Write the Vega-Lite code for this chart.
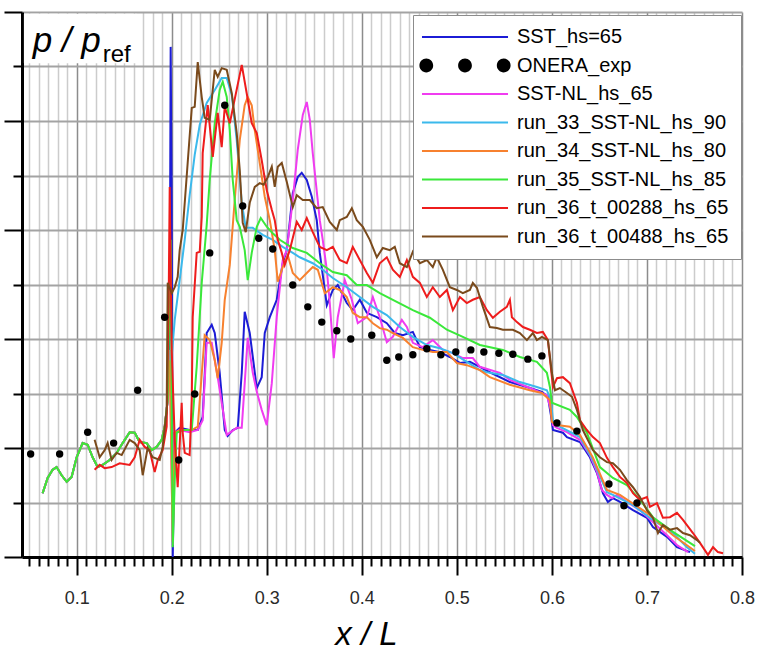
{
"$schema": "https://vega.github.io/schema/vega-lite/v6.json",
"width": 720, "height": 545, "autosize": "none",
"padding": {"left": 22, "top": 12, "right": 18, "bottom": 93},
"background": "white",
"config": {"view": {"stroke": null}, "font": "Liberation Sans"},
"resolve": {"axis": {"x": "independent", "y": "independent"}},
"datasets": {
"sst": [{"x":0.0642,"y":1.17},{"x":0.0695,"y":1.45},{"x":0.0747,"y":1.60},{"x":0.0789,"y":1.65},{"x":0.0842,"y":1.50},{"x":0.0895,"y":1.38},{"x":0.0947,"y":1.47},{"x":0.1,"y":1.83},{"x":0.1063,"y":2.09},{"x":0.1116,"y":2.06},{"x":0.1168,"y":1.83},{"x":0.1221,"y":1.65},{"x":0.1274,"y":1.69},{"x":0.1347,"y":1.78},{"x":0.1421,"y":1.91},{"x":0.1484,"y":2.09},{"x":0.1558,"y":2.29},{"x":0.1611,"y":2.28},{"x":0.1663,"y":2.11},{"x":0.1737,"y":2.09},{"x":0.1789,"y":1.96},{"x":0.1842,"y":2.02},{"x":0.1895,"y":2.15},{"x":0.1926,"y":2.39},{"x":0.1958,"y":2.88},
{"x":0.1979,"y":4.17},{"x":0.1989,"y":9.36},{"x":0.2,"y":6.55},{"x":0.2011,"y":0},{"x":0.2021,"y":1.05},{"x":0.2032,"y":2.28},{"x":0.2084,"y":2.37},{"x":0.2189,"y":2.33},{"x":0.2274,"y":2.33},{"x":0.2326,"y":2.57},{"x":0.2368,"y":4.11},{"x":0.2421,"y":4.26},{"x":0.2453,"y":4.11},{"x":0.2505,"y":3.38},{"x":0.2558,"y":2.33},{"x":0.2589,"y":2.22},{"x":0.2642,"y":2.33},{"x":0.2695,"y":2.37},{"x":0.2737,"y":3.38},{"x":0.2768,"y":4.50},{"x":0.2821,"y":4.11},{"x":0.2895,"y":3.10},{"x":0.2947,"y":3.30},{"x":0.2979,"y":4.11},{"x":0.3032,"y":4.40},{"x":0.3105,"y":4.72},{"x":0.3168,"y":5.39},{"x":0.3211,"y":5.63},{"x":0.3274,"y":6.68},{"x":0.3326,"y":6.97},{"x":0.3368,"y":7.05},{"x":0.3421,"y":6.92},{"x":0.3474,"y":6.61},{"x":0.3526,"y":6.18},{"x":0.3558,"y":5.58},{"x":0.3632,"y":4.62},{"x":0.3695,"y":4.90},{"x":0.3747,"y":4.99},{"x":0.3842,"y":4.66},{"x":0.3905,"y":4.53},{"x":0.3979,"y":4.72},{"x":0.4053,"y":4.48},{"x":0.4158,"y":4.40},{"x":0.4263,"y":4.29},{"x":0.4347,"y":4.11},{"x":0.4432,"y":4.07},{"x":0.4537,"y":4.13},{"x":0.4611,"y":3.85},{"x":0.4716,"y":3.80},{"x":0.4821,"y":3.76},{"x":0.4926,"y":3.67},{"x":0.5032,"y":3.56},{"x":0.5137,"y":3.58},{"x":0.5242,"y":3.49},{"x":0.5347,"y":3.39},{"x":0.5558,"y":3.21},{"x":0.5737,"y":3.12},{"x":0.5895,"y":3.03},{"x":0.5958,"y":2.94},{"x":0.5989,"y":2.61},{"x":0.6011,"y":2.33},{"x":0.6116,"y":2.28},{"x":0.6158,"y":2.20},{"x":0.6295,"y":2.11},{"x":0.64,"y":1.83},{"x":0.6474,"y":1.54},{"x":0.6537,"y":1.17},{"x":0.6589,"y":1.01},{"x":0.6642,"y":1.08},{"x":0.6716,"y":1.01},{"x":0.6853,"y":0.86},{"x":0.7,"y":0.72},{"x":0.7063,"y":0.55},{"x":0.7211,"y":0.37},{"x":0.7316,"y":0.18},{"x":0.7453,"y":0.09}],
"nl65": [{"x":0.0642,"y":1.17},{"x":0.0695,"y":1.45},{"x":0.0747,"y":1.60},{"x":0.0789,"y":1.65},{"x":0.0842,"y":1.50},{"x":0.0895,"y":1.38},{"x":0.0947,"y":1.47},{"x":0.1,"y":1.83},{"x":0.1063,"y":2.09},{"x":0.1116,"y":2.06},{"x":0.1168,"y":1.83},{"x":0.1221,"y":1.65},{"x":0.1274,"y":1.69},{"x":0.1347,"y":1.78},{"x":0.1421,"y":1.91},{"x":0.1484,"y":2.09},{"x":0.1558,"y":2.29},{"x":0.1611,"y":2.28},{"x":0.1663,"y":2.11},{"x":0.1737,"y":2.09},{"x":0.1789,"y":1.96},{"x":0.1842,"y":2.02},{"x":0.1895,"y":2.15},{"x":0.1926,"y":2.39},{"x":0.1958,"y":2.88},
{"x":0.1979,"y":3.80},{"x":0.2011,"y":0.22},{"x":0.2032,"y":2.28},{"x":0.2084,"y":2.33},{"x":0.2189,"y":2.29},{"x":0.2274,"y":2.33},{"x":0.2326,"y":2.51},{"x":0.2368,"y":3.93},{"x":0.2421,"y":3.93},{"x":0.2484,"y":3.30},{"x":0.2579,"y":2.24},{"x":0.2684,"y":2.37},{"x":0.2737,"y":2.37},{"x":0.28,"y":4.02},{"x":0.2853,"y":3.38},{"x":0.2895,"y":3.03},{"x":0.2947,"y":2.70},{"x":0.3,"y":2.42},{"x":0.3053,"y":3.19},{"x":0.3105,"y":4.40},{"x":0.3168,"y":5.45},{"x":0.3211,"y":5.63},{"x":0.3274,"y":6.55},{"x":0.3326,"y":7.47},{"x":0.3379,"y":8.11},{"x":0.3421,"y":8.35},{"x":0.3453,"y":8.02},{"x":0.3484,"y":7.41},{"x":0.3558,"y":6.18},{"x":0.3589,"y":5.82},{"x":0.3632,"y":5.27},{"x":0.3663,"y":4.66},{"x":0.3705,"y":3.65},{"x":0.3747,"y":4.40},{"x":0.3821,"y":5.08},{"x":0.3895,"y":4.72},{"x":0.3958,"y":4.29},{"x":0.4053,"y":4.40},{"x":0.4116,"y":4.77},{"x":0.4189,"y":4.40},{"x":0.4263,"y":3.94},{"x":0.4326,"y":4.04},{"x":0.4421,"y":4.35},{"x":0.4474,"y":4.22},{"x":0.4537,"y":3.93},{"x":0.4642,"y":3.85},{"x":0.4747,"y":3.98},{"x":0.4853,"y":3.80},{"x":0.4958,"y":3.74},{"x":0.5063,"y":3.65},{"x":0.5168,"y":3.65},{"x":0.5242,"y":3.49},{"x":0.5453,"y":3.38},{"x":0.5558,"y":3.25},{"x":0.5768,"y":3.10},{"x":0.5947,"y":2.97},{"x":0.5989,"y":2.70},{"x":0.6011,"y":2.42},{"x":0.6053,"y":2.37},{"x":0.6158,"y":2.29},{"x":0.6295,"y":2.15},{"x":0.64,"y":1.87},{"x":0.6474,"y":1.56},{"x":0.6526,"y":1.23},{"x":0.6579,"y":1.14},{"x":0.6632,"y":1.08},{"x":0.6684,"y":1.14},{"x":0.6789,"y":1.01},{"x":0.6926,"y":0.86},{"x":0.7063,"y":0.64},{"x":0.7211,"y":0.40},{"x":0.7316,"y":0.22},{"x":0.7432,"y":0.09}],
"r33": [{"x":0.0642,"y":1.17},{"x":0.0695,"y":1.45},{"x":0.0747,"y":1.60},{"x":0.0789,"y":1.65},{"x":0.0842,"y":1.50},{"x":0.0895,"y":1.38},{"x":0.0947,"y":1.47},{"x":0.1,"y":1.83},{"x":0.1063,"y":2.09},{"x":0.1116,"y":2.06},{"x":0.1168,"y":1.83},{"x":0.1221,"y":1.65},{"x":0.1274,"y":1.69},{"x":0.1347,"y":1.78},{"x":0.1421,"y":1.91},{"x":0.1484,"y":2.09},{"x":0.1558,"y":2.29},{"x":0.1611,"y":2.28},{"x":0.1663,"y":2.11},{"x":0.1737,"y":2.09},{"x":0.1789,"y":1.96},{"x":0.1842,"y":2.02},{"x":0.1895,"y":2.15},
{"x":0.1926,"y":2.33},{"x":0.1947,"y":2.70},{"x":0.1979,"y":3.25},{"x":0.2032,"y":4.35},{"x":0.2084,"y":5.08},{"x":0.2137,"y":5.82},{"x":0.2189,"y":6.64},{"x":0.2242,"y":7.38},{"x":0.2295,"y":7.93},{"x":0.2368,"y":8.33},{"x":0.2453,"y":8.57},{"x":0.2526,"y":8.79},{"x":0.2579,"y":8.79},{"x":0.2632,"y":8.48},{"x":0.2684,"y":7.65},{"x":0.2737,"y":6.50},{"x":0.2779,"y":6.04},{"x":0.2853,"y":6.04},{"x":0.2958,"y":5.91},{"x":0.3063,"y":5.82},{"x":0.3168,"y":5.69},{"x":0.3274,"y":5.58},{"x":0.3347,"y":5.50},{"x":0.3484,"y":5.39},{"x":0.3589,"y":5.27},{"x":0.3695,"y":5.12},{"x":0.3842,"y":4.95},{"x":0.3979,"y":4.77},{"x":0.4116,"y":4.59},{"x":0.4263,"y":4.44},{"x":0.44,"y":4.22},{"x":0.4537,"y":4.04},{"x":0.4684,"y":3.89},{"x":0.4821,"y":3.83},{"x":0.4958,"y":3.74},{"x":0.5105,"y":3.58},{"x":0.5242,"y":3.43},{"x":0.5316,"y":3.39},{"x":0.5484,"y":3.34},{"x":0.5663,"y":3.21},{"x":0.5842,"y":3.12},{"x":0.5947,"y":3.06},{"x":0.5989,"y":2.88},{"x":0.6011,"y":2.51},{"x":0.6053,"y":2.42},{"x":0.6295,"y":2.20},{"x":0.6432,"y":1.78},{"x":0.6579,"y":1.19},{"x":0.6642,"y":1.14},{"x":0.6853,"y":0.95},{"x":0.7063,"y":0.68},{"x":0.7274,"y":0.44},{"x":0.7421,"y":0.18},{"x":0.7505,"y":0.06}],
"r34": [{"x":0.0642,"y":1.17},{"x":0.0695,"y":1.45},{"x":0.0747,"y":1.60},{"x":0.0789,"y":1.65},{"x":0.0842,"y":1.50},{"x":0.0895,"y":1.38},{"x":0.0947,"y":1.47},{"x":0.1,"y":1.83},{"x":0.1063,"y":2.09},{"x":0.1116,"y":2.06},{"x":0.1168,"y":1.83},{"x":0.1221,"y":1.65},{"x":0.1274,"y":1.69},{"x":0.1347,"y":1.78},{"x":0.1421,"y":1.91},{"x":0.1484,"y":2.09},{"x":0.1558,"y":2.29},{"x":0.1611,"y":2.28},{"x":0.1663,"y":2.11},{"x":0.1737,"y":2.09},{"x":0.1789,"y":1.96},{"x":0.1842,"y":2.02},{"x":0.1895,"y":2.15},{"x":0.1926,"y":2.39},{"x":0.1958,"y":2.88},
{"x":0.1979,"y":3.61},{"x":0.2011,"y":0.28},{"x":0.2032,"y":2.28},{"x":0.2084,"y":2.33},{"x":0.2211,"y":2.33},{"x":0.2274,"y":2.39},{"x":0.2347,"y":4.07},{"x":0.24,"y":3.98},{"x":0.2453,"y":3.61},{"x":0.2484,"y":3.28},{"x":0.2526,"y":3.93},{"x":0.2558,"y":4.72},{"x":0.2611,"y":5.36},{"x":0.2663,"y":6.55},{"x":0.2716,"y":7.65},{"x":0.2768,"y":8.29},{"x":0.28,"y":8.44},{"x":0.2842,"y":8.29},{"x":0.2874,"y":7.83},{"x":0.2926,"y":7.23},{"x":0.2979,"y":6.61},{"x":0.3032,"y":6.18},{"x":0.3084,"y":5.63},{"x":0.3116,"y":5.05},{"x":0.3168,"y":5.32},{"x":0.3221,"y":5.54},{"x":0.3274,"y":5.21},{"x":0.3347,"y":5.08},{"x":0.3421,"y":5.21},{"x":0.3484,"y":5.32},{"x":0.3537,"y":5.27},{"x":0.3611,"y":4.84},{"x":0.3695,"y":4.95},{"x":0.3768,"y":4.90},{"x":0.3842,"y":4.77},{"x":0.3905,"y":4.48},{"x":0.3979,"y":4.40},{"x":0.4053,"y":4.40},{"x":0.4116,"y":4.29},{"x":0.4189,"y":4.20},{"x":0.4263,"y":4.17},{"x":0.4326,"y":4.11},{"x":0.4432,"y":4.02},{"x":0.4537,"y":3.85},{"x":0.4642,"y":3.80},{"x":0.4747,"y":3.76},{"x":0.4895,"y":3.76},{"x":0.5,"y":3.56},{"x":0.5105,"y":3.52},{"x":0.5242,"y":3.43},{"x":0.5347,"y":3.30},{"x":0.5558,"y":3.16},{"x":0.5768,"y":3.06},{"x":0.5895,"y":3.01},{"x":0.5979,"y":2.88},{"x":0.6,"y":2.48},{"x":0.6053,"y":2.42},{"x":0.6189,"y":2.39},{"x":0.6295,"y":2.24},{"x":0.6432,"y":1.82},{"x":0.6579,"y":1.23},{"x":0.6716,"y":1.14},{"x":0.7,"y":0.81},{"x":0.7274,"y":0.40},{"x":0.7505,"y":0.11}],
"r35": [{"x":0.0642,"y":1.17},{"x":0.0695,"y":1.45},{"x":0.0747,"y":1.60},{"x":0.0789,"y":1.65},{"x":0.0842,"y":1.50},{"x":0.0895,"y":1.38},{"x":0.0947,"y":1.47},{"x":0.1,"y":1.83},{"x":0.1063,"y":2.09},{"x":0.1116,"y":2.06},{"x":0.1168,"y":1.83},{"x":0.1221,"y":1.65},{"x":0.1274,"y":1.69},{"x":0.1347,"y":1.78},{"x":0.1421,"y":1.91},{"x":0.1484,"y":2.09},{"x":0.1558,"y":2.29},{"x":0.1611,"y":2.28},{"x":0.1663,"y":2.11},{"x":0.1737,"y":2.09},{"x":0.1789,"y":1.96},{"x":0.1842,"y":2.02},{"x":0.1895,"y":2.15},{"x":0.1926,"y":2.39},{"x":0.1958,"y":2.88},
{"x":0.1989,"y":5.82},{"x":0.2011,"y":0.18},{"x":0.2032,"y":1.41},{"x":0.2053,"y":2.28},{"x":0.2116,"y":2.33},{"x":0.2211,"y":2.33},{"x":0.2263,"y":3.49},{"x":0.2316,"y":5.03},{"x":0.2368,"y":6.09},{"x":0.24,"y":6.92},{"x":0.2453,"y":7.96},{"x":0.2505,"y":8.57},{"x":0.2537,"y":8.72},{"x":0.2579,"y":8.44},{"x":0.2611,"y":7.83},{"x":0.2642,"y":6.92},{"x":0.2684,"y":6.18},{"x":0.2716,"y":6.06},{"x":0.2768,"y":5.63},{"x":0.28,"y":5.08},{"x":0.2842,"y":5.58},{"x":0.2895,"y":6.06},{"x":0.2937,"y":6.22},{"x":0.3,"y":6.06},{"x":0.3063,"y":5.94},{"x":0.3137,"y":5.82},{"x":0.3274,"y":5.67},{"x":0.3421,"y":5.58},{"x":0.3558,"y":5.39},{"x":0.3695,"y":5.23},{"x":0.3842,"y":5.17},{"x":0.3947,"y":4.99},{"x":0.4053,"y":4.99},{"x":0.4189,"y":4.84},{"x":0.4368,"y":4.68},{"x":0.4537,"y":4.53},{"x":0.4716,"y":4.39},{"x":0.4895,"y":4.17},{"x":0.5063,"y":4.04},{"x":0.5242,"y":3.89},{"x":0.5484,"y":3.80},{"x":0.5663,"y":3.67},{"x":0.5842,"y":3.58},{"x":0.5947,"y":3.38},{"x":0.5979,"y":3.12},{"x":0.6,"y":2.83},{"x":0.6189,"y":2.70},{"x":0.6263,"y":2.57},{"x":0.6368,"y":2.28},{"x":0.6505,"y":1.65},{"x":0.6642,"y":1.45},{"x":0.6789,"y":1.32},{"x":0.6926,"y":1.05},{"x":0.7063,"y":0.73},{"x":0.7274,"y":0.46},{"x":0.7505,"y":0.20}],
"r36a": [{"x":0.1189,"y":1.60},{"x":0.1242,"y":1.69},{"x":0.1295,"y":1.63},{"x":0.1368,"y":1.65},{"x":0.1453,"y":1.72},{"x":0.1558,"y":1.69},{"x":0.1611,"y":1.83},{"x":0.1663,"y":2.15},{"x":0.1716,"y":2.02},{"x":0.1768,"y":1.96},{"x":0.1821,"y":1.56},{"x":0.1853,"y":1.78},{"x":0.1905,"y":1.96},{"x":0.1947,"y":2.39},{"x":0.1968,"y":4.72},{"x":0.1979,"y":6.79},{"x":0.2,"y":3.80},{"x":0.2032,"y":2.15},{"x":0.2063,"y":1.28},{"x":0.2105,"y":2.83},{"x":0.2116,"y":2.28},{"x":0.2137,"y":1.91},{"x":0.2189,"y":1.87},{"x":0.2211,"y":2.88},{"x":0.2221,"y":4.40},{"x":0.2263,"y":5.58},{"x":0.2295,"y":5.60},{"x":0.2316,"y":6.24},{"x":0.2326,"y":7.41},{"x":0.2379,"y":8.29},{"x":0.2432,"y":7.34},{"x":0.2484,"y":8.15},{"x":0.2526,"y":7.52},{"x":0.2558,"y":8.26},{"x":0.2611,"y":7.96},{"x":0.2737,"y":9.03},{"x":0.2789,"y":8.51},{"x":0.2842,"y":7.96},{"x":0.2895,"y":7.78},{"x":0.2947,"y":7.28},{"x":0.3,"y":6.73},{"x":0.3053,"y":6.37},{"x":0.3084,"y":6.18},{"x":0.3116,"y":5.82},{"x":0.3158,"y":5.58},{"x":0.3189,"y":5.36},{"x":0.3242,"y":5.63},{"x":0.3316,"y":6.15},{"x":0.3368,"y":6.00},{"x":0.3421,"y":6.22},{"x":0.3484,"y":5.96},{"x":0.3558,"y":5.69},{"x":0.3632,"y":5.63},{"x":0.3695,"y":5.69},{"x":0.3768,"y":5.45},{"x":0.3842,"y":5.39},{"x":0.3905,"y":5.69},{"x":0.3979,"y":5.45},{"x":0.4053,"y":5.21},{"x":0.4116,"y":5.03},{"x":0.4189,"y":5.39},{"x":0.4263,"y":5.50},{"x":0.4326,"y":5.27},{"x":0.44,"y":5.14},{"x":0.4474,"y":5.45},{"x":0.4537,"y":5.14},{"x":0.4611,"y":5.03},{"x":0.4684,"y":4.77},{"x":0.4747,"y":4.95},{"x":0.4821,"y":4.77},{"x":0.4895,"y":4.90},{"x":0.4958,"y":4.53},{"x":0.5032,"y":4.77},{"x":0.5105,"y":4.66},{"x":0.5168,"y":4.72},{"x":0.5242,"y":4.77},{"x":0.5316,"y":4.53},{"x":0.5379,"y":4.39},{"x":0.5453,"y":4.50},{"x":0.5526,"y":4.59},{"x":0.5558,"y":4.72},{"x":0.5579,"y":4.40},{"x":0.5632,"y":4.31},{"x":0.5695,"y":4.22},{"x":0.5768,"y":4.17},{"x":0.5842,"y":4.11},{"x":0.5905,"y":4.13},{"x":0.5958,"y":3.98},{"x":0.6,"y":3.30},{"x":0.6011,"y":3.12},{"x":0.6053,"y":3.28},{"x":0.6116,"y":3.30},{"x":0.6189,"y":3.19},{"x":0.6263,"y":2.83},{"x":0.6295,"y":2.51},{"x":0.6368,"y":2.33},{"x":0.6432,"y":2.20},{"x":0.6505,"y":2.09},{"x":0.6579,"y":1.82},{"x":0.6642,"y":1.65},{"x":0.6716,"y":1.47},{"x":0.6789,"y":1.36},{"x":0.6853,"y":1.17},{"x":0.6926,"y":1.05},{"x":0.7,"y":1.10},{"x":0.7032,"y":0.92},{"x":0.7105,"y":0.99},{"x":0.7168,"y":0.72},{"x":0.7242,"y":0.73},{"x":0.7316,"y":0.81},{"x":0.7379,"y":0.68},{"x":0.7484,"y":0.44},{"x":0.7558,"y":0.26},{"x":0.7642,"y":0.04},{"x":0.7695,"y":0.18},{"x":0.7747,"y":0.09},{"x":0.78,"y":0.07}],
"r36b": [{"x":0.1189,"y":2.15},{"x":0.1242,"y":1.83},{"x":0.1295,"y":1.96},{"x":0.1326,"y":2.09},{"x":0.1368,"y":1.78},{"x":0.1421,"y":1.91},{"x":0.1474,"y":1.87},{"x":0.1558,"y":2.15},{"x":0.1611,"y":2.09},{"x":0.1663,"y":1.96},{"x":0.1695,"y":1.50},{"x":0.1747,"y":2.00},{"x":0.18,"y":1.83},{"x":0.1874,"y":1.78},{"x":0.1905,"y":2.02},{"x":0.1947,"y":2.70},{"x":0.1958,"y":5.03},{"x":0.2,"y":4.84},{"x":0.2032,"y":4.95},{"x":0.2063,"y":5.14},{"x":0.2084,"y":5.63},{"x":0.2116,"y":6.00},{"x":0.2168,"y":7.23},{"x":0.2211,"y":8.24},{"x":0.2242,"y":8.26},{"x":0.2274,"y":9.08},{"x":0.2316,"y":8.44},{"x":0.2347,"y":8.06},{"x":0.24,"y":8.02},{"x":0.2453,"y":8.94},{"x":0.2484,"y":8.81},{"x":0.2526,"y":8.97},{"x":0.2579,"y":8.94},{"x":0.2632,"y":8.51},{"x":0.2684,"y":7.78},{"x":0.2716,"y":7.10},{"x":0.2747,"y":6.13},{"x":0.2779,"y":5.96},{"x":0.2821,"y":6.50},{"x":0.2874,"y":6.79},{"x":0.2926,"y":6.86},{"x":0.2968,"y":6.83},{"x":0.3011,"y":6.97},{"x":0.3053,"y":7.16},{"x":0.3084,"y":6.79},{"x":0.3116,"y":7.16},{"x":0.3158,"y":7.23},{"x":0.3211,"y":6.88},{"x":0.3274,"y":6.42},{"x":0.3316,"y":6.64},{"x":0.3379,"y":6.55},{"x":0.3453,"y":6.55},{"x":0.3526,"y":6.40},{"x":0.3589,"y":6.42},{"x":0.3663,"y":6.15},{"x":0.3737,"y":6.00},{"x":0.3768,"y":6.18},{"x":0.3842,"y":6.24},{"x":0.3895,"y":6.40},{"x":0.3947,"y":6.18},{"x":0.4011,"y":6.06},{"x":0.4084,"y":5.82},{"x":0.4158,"y":5.50},{"x":0.4221,"y":5.67},{"x":0.4295,"y":5.63},{"x":0.4347,"y":5.69},{"x":0.44,"y":5.39},{"x":0.4474,"y":5.32},{"x":0.4537,"y":5.60},{"x":0.4611,"y":5.39},{"x":0.4684,"y":5.45},{"x":0.4747,"y":5.32},{"x":0.4789,"y":5.50},{"x":0.4853,"y":5.27},{"x":0.4926,"y":4.95},{"x":0.5,"y":4.90},{"x":0.5063,"y":4.84},{"x":0.5137,"y":4.90},{"x":0.5168,"y":5.03},{"x":0.5211,"y":4.94},{"x":0.5274,"y":4.59},{"x":0.5347,"y":4.22},{"x":0.5421,"y":4.20},{"x":0.5484,"y":4.17},{"x":0.5589,"y":4.17},{"x":0.5663,"y":4.11},{"x":0.5737,"y":3.98},{"x":0.58,"y":4.11},{"x":0.5842,"y":3.98},{"x":0.5895,"y":4.04},{"x":0.5958,"y":3.98},{"x":0.6,"y":3.38},{"x":0.6032,"y":3.06},{"x":0.6084,"y":3.10},{"x":0.6158,"y":3.01},{"x":0.6211,"y":2.94},{"x":0.6263,"y":2.70},{"x":0.6326,"y":2.33},{"x":0.6432,"y":1.96},{"x":0.6505,"y":1.83},{"x":0.6579,"y":1.74},{"x":0.6642,"y":1.72},{"x":0.6716,"y":1.60},{"x":0.6789,"y":1.41},{"x":0.6853,"y":1.28},{"x":0.6926,"y":1.10},{"x":0.7,"y":0.86},{"x":0.7063,"y":0.72},{"x":0.7116,"y":0.44},{"x":0.7168,"y":0.59},{"x":0.7242,"y":0.50},{"x":0.7316,"y":0.53},{"x":0.7379,"y":0.44},{"x":0.7453,"y":0.40},{"x":0.7526,"y":0.31},{"x":0.7558,"y":0.26}],
"onera": [{"x":0.0516,"y":1.89},{"x":0.0821,"y":1.89},{"x":0.1116,"y":2.29},{"x":0.1389,"y":2.09},{"x":0.1642,"y":3.06},{"x":0.1926,"y":4.40},{"x":0.2074,"y":1.78},{"x":0.2242,"y":2.99},{"x":0.24,"y":5.58},{"x":0.2558,"y":8.29},{"x":0.2747,"y":6.44},{"x":0.2916,"y":5.85},{"x":0.3063,"y":5.65},{"x":0.3274,"y":4.99},{"x":0.3432,"y":4.59},{"x":0.3579,"y":4.31},{"x":0.3737,"y":4.15},{"x":0.3884,"y":4.00},{"x":0.4105,"y":4.07},{"x":0.4263,"y":3.61},{"x":0.4389,"y":3.67},{"x":0.4537,"y":3.71},{"x":0.4684,"y":3.82},{"x":0.4832,"y":3.71},{"x":0.4989,"y":3.76},{"x":0.5147,"y":3.80},{"x":0.5284,"y":3.76},{"x":0.5442,"y":3.74},{"x":0.5589,"y":3.72},{"x":0.5747,"y":3.63},{"x":0.5895,"y":3.69},{"x":0.6053,"y":2.46},{"x":0.6263,"y":2.31},{"x":0.66,"y":1.34},{"x":0.6758,"y":0.94},{"x":0.6895,"y":0.99}]
},
"layer": [
 {"encoding": {
  "x": {"field": "x", "type": "quantitative",
    "scale": {"domain": [0.0425, 0.8], "nice": false, "zero": false},
    "axis": {
      "title": "x / L", "titleFont": "Liberation Sans", "titleFontStyle": "italic", "titleFontWeight": "normal", "titleFontSize": 33, "titleColor": "black", "titleX": 344, "titleY": 87, "titleBaseline": "alphabetic", "titleAlign": "center",
      "values": [0.05,0.06,0.07,0.08,0.09,0.1,0.11,0.12,0.13,0.14,0.15,0.16,0.17,0.18,0.19,0.2,0.21,0.22,0.23,0.24,0.25,0.26,0.27,0.28,0.29,0.3,0.31,0.32,0.33,0.34,0.35,0.36,0.37,0.38,0.39,0.4,0.41,0.42,0.43,0.44,0.45,0.46,0.47,0.48,0.49,0.5,0.51,0.52,0.53,0.54,0.55,0.56,0.57,0.58,0.59,0.6,0.61,0.62,0.63,0.64,0.65,0.66,0.67,0.68,0.69,0.7,0.71,0.72,0.73,0.74,0.75,0.76,0.77,0.78,0.79,0.8],
      "labelExpr": "abs(datum.value*10 - round(datum.value*10)) < 0.001 ? format(datum.value, '.1f') : ''",
      "labelFont": "Liberation Sans", "labelFontSize": 18, "labelColor": "#2a2a2a", "labelPadding": 14, "labelFlush": false, "labelOverlap": false, "labelBaseline": "top",
      "tickSize": {"condition": {"test": "abs(datum.value*10 - round(datum.value*10)) < 0.001", "value": 18}, "value": 9},
      "tickWidth": 2, "tickColor": "black",
      "domainColor": "black", "domainWidth": 3,
      "grid": true, "gridWidth": 1.5,
      "gridColor": {"condition": {"test": "abs(datum.value*10 - round(datum.value*10)) < 0.001", "value": "#8c8c8c"}, "value": "#cccccc"}
    }},
  "y": {"field": "y", "type": "quantitative",
    "scale": {"domain": [0, 10], "nice": false, "zero": false},
    "axis": {
      "title": null, "labels": false,
      "values": [0,1,2,3,4,5,6,7,8,9,10],
      "tickSize": {"condition": {"test": "datum.value % 2 === 0", "value": 18}, "value": 9},
      "tickWidth": 2, "tickColor": "black",
      "domainColor": "black", "domainWidth": 3,
      "grid": true, "gridWidth": 1.8, "gridColor": "#a3a3a3"
    }}
  },
  "layer": [
  {"data": {"name": "sst"}, "mark": {"type": "line", "strokeWidth": 2},
   "encoding": {"color": {"datum": "SST_hs=65", "type": "nominal",
     "scale": {"domain": ["SST_hs=65","ONERA_exp","SST-NL_hs_65","run_33_SST-NL_hs_90","run_34_SST-NL_hs_80","run_35_SST-NL_hs_85","run_36_t_00288_hs_65","run_36_t_00488_hs_65"],
               "range": ["#1c1cd6","#000000","#f03cf0","#3bb9ec","#f7812f","#3ae83a","#ee1c1c","#7a4a1c"]},
     "legend": {"title": null, "orient": "none", "legendX": 391, "legendY": 3, "direction": "vertical",
       "fillColor": "white", "strokeColor": "#8c8c8c", "padding": 12, "cornerRadius": 0,
       "symbolType": "stroke", "symbolSize": 7400, "symbolStrokeWidth": 2,
       "labelFont": "Liberation Sans", "labelFontSize": 20, "labelColor": "black", "labelOffset": 72, "labelLimit": 400,
       "rowPadding": 8.5,
       "encode": {"symbols": {"update": {
         "x": {"value": 40},
         "shape": {"signal": "datum.value === 'ONERA_exp' ? 'M-1.06,0A0.16,0.16,0,1,0,-0.74,0A0.16,0.16,0,1,0,-1.06,0ZM-0.16,0A0.16,0.16,0,1,0,0.16,0A0.16,0.16,0,1,0,-0.16,0ZM0.74,0A0.16,0.16,0,1,0,1.06,0A0.16,0.16,0,1,0,0.74,0Z' : 'stroke'"},
         "fill": {"signal": "datum.value === 'ONERA_exp' ? 'black' : 'transparent'"},
         "strokeWidth": {"signal": "datum.value === 'ONERA_exp' ? 0 : 2"}
       }}}
     }}}},
  {"data": {"name": "nl65"}, "mark": {"type": "line", "strokeWidth": 2}, "encoding": {"color": {"datum": "SST-NL_hs_65"}}},
  {"data": {"name": "r33"}, "mark": {"type": "line", "strokeWidth": 2}, "encoding": {"color": {"datum": "run_33_SST-NL_hs_90"}}},
  {"data": {"name": "r34"}, "mark": {"type": "line", "strokeWidth": 2}, "encoding": {"color": {"datum": "run_34_SST-NL_hs_80"}}},
  {"data": {"name": "r35"}, "mark": {"type": "line", "strokeWidth": 2}, "encoding": {"color": {"datum": "run_35_SST-NL_hs_85"}}},
  {"data": {"name": "r36a"}, "mark": {"type": "line", "strokeWidth": 2}, "encoding": {"color": {"datum": "run_36_t_00288_hs_65"}}},
  {"data": {"name": "r36b"}, "mark": {"type": "line", "strokeWidth": 2}, "encoding": {"color": {"datum": "run_36_t_00488_hs_65"}}},
  {"data": {"name": "onera"}, "mark": {"type": "point", "filled": true, "size": 55, "opacity": 1}, "encoding": {"color": {"datum": "ONERA_exp"}}}
  ]
 },
 {"data": {"values": [{"label": "p / p"}]}, "mark": {"type": "rect", "fill": "white", "opacity": 1},
  "encoding": {"x": {"datum": 0.0445, "type": "quantitative", "axis": null}, "x2": {"datum": 0.163}, "y": {"datum": 9.06, "type": "quantitative", "axis": null}, "y2": {"datum": 9.97}}},
 {"data": {"values": [{"label": "p / p"}]}, "mark": {"type": "text", "font": "Liberation Sans", "fontStyle": "italic", "fontSize": 35, "align": "left", "baseline": "alphabetic", "fill": "black", "opacity": 1},
  "encoding": {"text": {"field": "label", "type": "nominal"}, "x": {"datum": 0.0537, "type": "quantitative", "axis": null}, "y": {"datum": 9.27, "type": "quantitative", "axis": null}}},
 {"data": {"values": [{"label": "ref"}]}, "mark": {"type": "text", "font": "Liberation Sans", "fontSize": 24, "align": "left", "baseline": "alphabetic", "fill": "black", "opacity": 1},
  "encoding": {"text": {"field": "label", "type": "nominal"}, "x": {"datum": 0.1274, "type": "quantitative", "axis": null}, "y": {"datum": 9.08, "type": "quantitative", "axis": null}}}
]
}
